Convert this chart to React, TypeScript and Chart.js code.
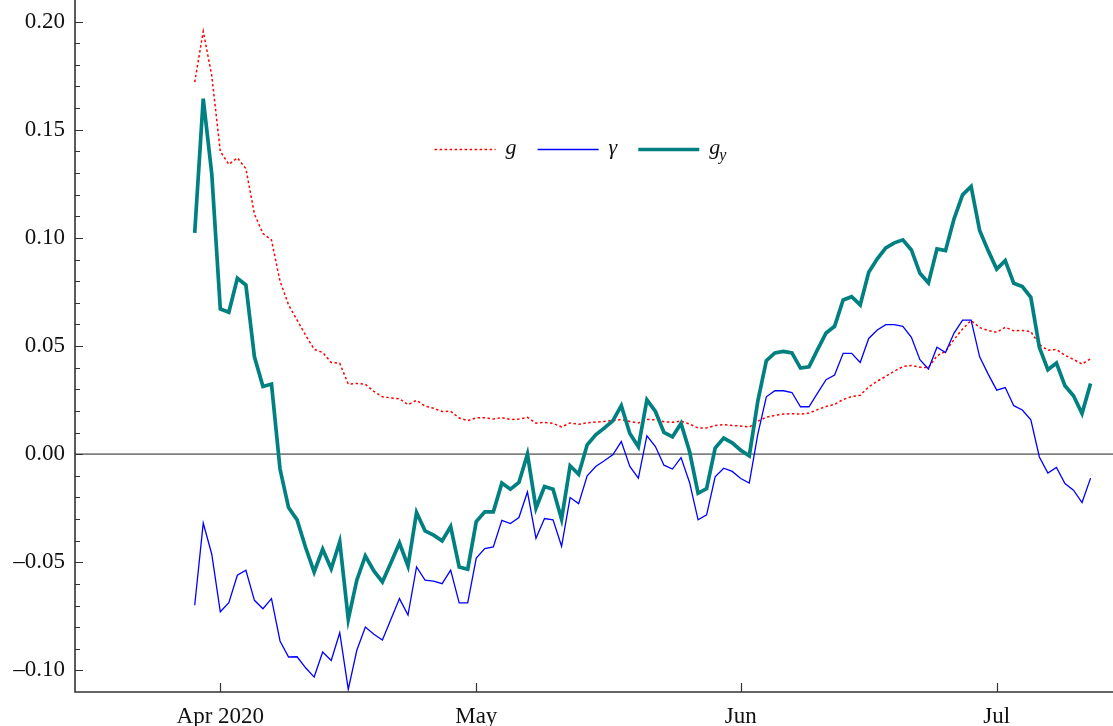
import React, { useEffect, useRef } from 'react';
import { Chart, registerables } from 'chart.js';

Chart.register(...registerables);

// Daily values, 29 Mar 2020 (day 0) to 12 Jul 2020 (day 105)
const G = [
  0.172, 0.1955, 0.175, 0.140, 0.134, 0.137, 0.132, 0.111, 0.102, 0.099,
  0.080, 0.069, 0.062, 0.055, 0.0485, 0.047, 0.0424, 0.042, 0.0324, 0.0327,
  0.0323, 0.029, 0.0265, 0.026, 0.0256, 0.0229, 0.0249, 0.0222, 0.0212, 0.0197,
  0.0198, 0.0167, 0.0155, 0.0168, 0.0168, 0.0162, 0.0169, 0.016, 0.0162, 0.017,
  0.0143, 0.0147, 0.0142, 0.0126, 0.0144, 0.0138, 0.0145, 0.0148, 0.0151, 0.0155,
  0.016, 0.0151, 0.0144, 0.016, 0.0159, 0.015, 0.0147, 0.0153, 0.0139, 0.0121,
  0.0121, 0.0132, 0.0136, 0.0132, 0.013, 0.0125, 0.0152, 0.0171, 0.0179, 0.0185,
  0.0187, 0.0185, 0.019, 0.0206, 0.022, 0.023, 0.0253, 0.0266, 0.0272, 0.0311,
  0.0337, 0.036, 0.0384, 0.0405, 0.041, 0.0402, 0.04, 0.0455, 0.0475, 0.053,
  0.0579, 0.0618, 0.0585, 0.0572, 0.0563, 0.0587, 0.057, 0.0572, 0.0566, 0.0507,
  0.048, 0.0484, 0.0457, 0.0438, 0.0416, 0.0441,
];

const GAMMA = [
  -0.0699, -0.0319, -0.0463, -0.0729, -0.0687, -0.056, -0.0537, -0.0676, -0.0715, -0.0668,
  -0.0864, -0.0938, -0.0937, -0.0988, -0.1031, -0.0915, -0.0954, -0.0826, -0.1088, -0.0907,
  -0.08, -0.0833, -0.086, -0.0764, -0.0668, -0.0744, -0.0522, -0.0583, -0.0587, -0.0599,
  -0.0536, -0.0688, -0.0688, -0.0481, -0.0437, -0.0429, -0.0306, -0.0321, -0.0293, -0.0175,
  -0.0389, -0.0298, -0.0304, -0.0426, -0.0201, -0.0229, -0.01, -0.0057, -0.0031, -0.0003,
  0.0058, -0.0057, -0.0111, 0.0085, 0.0035, -0.0051, -0.0069, -0.0016, -0.0131, -0.0304,
  -0.0281, -0.0105, -0.0065, -0.008, -0.0113, -0.0134, 0.0093, 0.0265, 0.0293, 0.0293,
  0.0285, 0.0219, 0.0219, 0.0282, 0.0344, 0.0366, 0.0466, 0.0466, 0.0424, 0.0535,
  0.0574, 0.0599, 0.0599, 0.0591, 0.054, 0.0437, 0.0394, 0.0494, 0.047, 0.056,
  0.062, 0.062, 0.045, 0.037, 0.0296, 0.0308, 0.0224, 0.0204, 0.0159, -0.0013,
  -0.0088, -0.0062, -0.0136, -0.0167, -0.0224, -0.0111,
];

const G_Y = [
  0.1023, 0.1644, 0.1296, 0.0671, 0.0656, 0.0813, 0.0782, 0.045, 0.0313, 0.0324,
  -0.0069, -0.0247, -0.0304, -0.0432, -0.0545, -0.044, -0.053, -0.0405, -0.0764, -0.0583,
  -0.0471, -0.054, -0.0591, -0.0502, -0.0411, -0.0517, -0.027, -0.0355, -0.0375, -0.0401,
  -0.0335, -0.0522, -0.0532, -0.0312, -0.0267, -0.0267, -0.0134, -0.0162, -0.0131, 0.0,
  -0.025, -0.015, -0.0162, -0.0301, -0.0054, -0.0093, 0.0043, 0.0089, 0.012, 0.0154,
  0.0224, 0.0095, 0.0034, 0.0251, 0.0197, 0.01, 0.008, 0.0142, 0.0012, -0.0181,
  -0.0159, 0.0028, 0.0074, 0.0052, 0.0018, -0.0008, 0.0245, 0.0432, 0.0468, 0.0475,
  0.0468, 0.0398, 0.0404, 0.0483, 0.056, 0.0591, 0.0713, 0.0728, 0.069, 0.0841,
  0.0903, 0.0954, 0.0977, 0.0991, 0.0944, 0.0836, 0.0792, 0.0949, 0.0941, 0.1088,
  0.1199, 0.1238, 0.1034, 0.0941, 0.0856, 0.0895, 0.079, 0.0775, 0.0725, 0.0494,
  0.039, 0.0421, 0.0316, 0.027, 0.0188, 0.0327,
];

const SERIES_LABELS = ['g', 'γ', 'g_y'];

// Month starts, as day numbers counted from 29 Mar 2020
const MONTH_TICK_DAYS = [3, 33, 64, 94];
const MONTH_TICK_LABELS = ['Apr 2020', 'May', 'Jun', 'Jul'];

const Y_TICKS = [-0.1, -0.05, 0, 0.05, 0.1, 0.15, 0.2];

const WIDTH = 1113;
const HEIGHT = 726;
const FONT = "'Liberation Serif', 'Times New Roman', serif";
const AXIS_COLOR = '#333333';

const toPoints = (vals: number[]) => vals.map((v, i) => ({ x: i, y: v }));

const fmtTick = (v: number) => {
  const s = Math.abs(v).toFixed(2);
  return v < -1e-9 ? '\u2013' + s : s;
};

// Axis lines, inward tick marks, zero line and the inline legend
const decorPlugin = {
  id: 'decor',
  beforeDatasetsDraw(chart: any) {
    const { ctx, chartArea, scales } = chart;
    const y0 = scales.y.getPixelForValue(0);
    ctx.save();
    ctx.strokeStyle = '#808080';
    ctx.lineWidth = 1.6;
    ctx.beginPath();
    ctx.moveTo(chartArea.left, y0);
    ctx.lineTo(chartArea.right, y0);
    ctx.stroke();
    ctx.restore();
  },
  afterDraw(chart: any) {
    const { ctx, chartArea, scales } = chart;
    const { left, right, bottom } = chartArea;
    ctx.save();
    ctx.strokeStyle = AXIS_COLOR;
    ctx.lineWidth = 1.6;
    ctx.beginPath();
    ctx.moveTo(left, chartArea.top);
    ctx.lineTo(left, bottom);
    ctx.lineTo(right, bottom);
    ctx.stroke();

    ctx.lineWidth = 1.2;
    ctx.beginPath();
    for (let k = -10; k <= 20; k++) {
      const py = Math.round(scales.y.getPixelForValue(k / 100)) + 0.5;
      const len = k % 5 === 0 ? 8 : 5;
      ctx.moveTo(left, py);
      ctx.lineTo(left + len, py);
    }
    for (const d of MONTH_TICK_DAYS) {
      const px = Math.round(scales.x.getPixelForValue(d)) + 0.5;
      ctx.moveTo(px, bottom);
      ctx.lineTo(px, bottom - 9);
    }
    ctx.stroke();

    // legend
    const sample = 61;
    const textGap = 10;
    const itemGap = 21;
    const mainFont = `italic 22px ${FONT}`;
    const subFont = `italic 16px ${FONT}`;
    const ly = 149.5;
    const items = chart.data.datasets.map((ds: any) => {
      const [main, sub] = String(ds.label).split('_');
      ctx.font = mainFont;
      let w = ctx.measureText(main).width;
      if (sub) {
        ctx.font = subFont;
        w += ctx.measureText(sub).width - 1;
      }
      return { ds, main, sub, w };
    });
    const total = items.reduce((s: number, it: any) => s + sample + textGap + it.w, 0) + itemGap * (items.length - 1);
    let x = 580.5 - total / 2;
    for (const it of items) {
      ctx.save();
      ctx.strokeStyle = it.ds.borderColor;
      ctx.lineWidth = Math.max(1.5, it.ds.borderWidth);
      ctx.setLineDash(it.ds.borderDash || []);
      ctx.beginPath();
      ctx.moveTo(x, ly);
      ctx.lineTo(x + sample, ly);
      ctx.stroke();
      ctx.restore();
      x += sample + textGap;
      ctx.fillStyle = '#111111';
      ctx.textBaseline = 'alphabetic';
      ctx.textAlign = 'left';
      ctx.font = mainFont;
      ctx.fillText(it.main, x, ly + 4);
      const tx = x + ctx.measureText(it.main).width - 1;
      if (it.sub) {
        ctx.font = subFont;
        ctx.fillText(it.sub, tx, ly + 10);
      }
      x += it.w + itemGap;
    }
    ctx.restore();
  },
};

export default function App() {
  const canvasRef = useRef<HTMLCanvasElement | null>(null);

  useEffect(() => {
    const canvas = canvasRef.current;
    if (!canvas) return;
    const chart = new Chart(canvas, {
      type: 'line',
      data: {
        datasets: [
          {
            label: SERIES_LABELS[0],
            data: toPoints(G),
            borderColor: '#ff0000',
            borderWidth: 1.5,
            borderDash: [2.5, 2.5],
            pointRadius: 0,
            order: 3,
          },
          {
            label: SERIES_LABELS[1],
            data: toPoints(GAMMA),
            borderColor: '#0000ff',
            borderWidth: 1.3,
            pointRadius: 0,
            order: 2,
          },
          {
            label: SERIES_LABELS[2],
            data: toPoints(G_Y),
            borderColor: '#008080',
            borderWidth: 3.7,
            pointRadius: 0,
            order: 1,
          },
        ],
      },
      options: {
        responsive: false,
        animation: false,
        devicePixelRatio: 1,
        layout: { padding: 0, autoPadding: false },
        plugins: { legend: { display: false }, tooltip: { enabled: false } },
        elements: { line: { tension: 0, borderJoinStyle: 'miter' } },
        scales: {
          x: {
            type: 'linear',
            min: -14.03,
            max: 107.63,
            grid: { display: false, drawTicks: false, tickLength: 0 },
            border: { display: false },
            afterBuildTicks: (scale: any) => {
              scale.ticks = MONTH_TICK_DAYS.map((d) => ({ value: d }));
            },
            afterFit: (scale: any) => {
              scale.height = HEIGHT - 692;
              scale.paddingLeft = 0;
              scale.paddingRight = 0;
            },
            ticks: {
              autoSkip: false,
              maxRotation: 0,
              padding: 11,
              color: '#111111',
              font: { family: FONT, size: 23 },
              callback: (v: any) => {
                const idx = MONTH_TICK_DAYS.indexOf(Number(v));
                return idx >= 0 ? MONTH_TICK_LABELS[idx] : '';
              },
            },
          },
          y: {
            type: 'linear',
            min: -0.11,
            max: 0.21,
            grid: { display: false, drawTicks: false, tickLength: 0 },
            border: { display: false },
            afterBuildTicks: (scale: any) => {
              scale.ticks = Y_TICKS.map((v) => ({ value: v }));
            },
            afterFit: (scale: any) => {
              scale.width = 75;
              scale.paddingTop = 0;
              scale.paddingBottom = 0;
            },
            ticks: {
              padding: 10,
              color: '#111111',
              font: { family: FONT, size: 23 },
              callback: (v: any) => fmtTick(Number(v)),
            },
          },
        },
      },
      plugins: [decorPlugin],
    } as any);
    return () => chart.destroy();
  }, []);

  return (
    <div style={{ position: 'absolute', left: 0, top: 0, width: WIDTH, height: HEIGHT, background: '#ffffff' }}>
      <canvas ref={canvasRef} width={WIDTH} height={HEIGHT} style={{ display: 'block', width: WIDTH, height: HEIGHT }} />
    </div>
  );
}
